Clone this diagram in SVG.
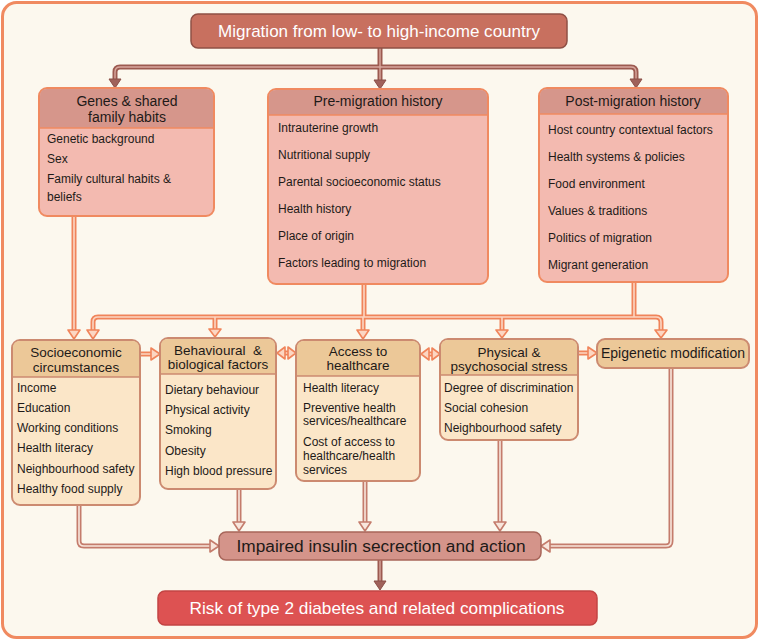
<svg xmlns="http://www.w3.org/2000/svg" width="759" height="640" viewBox="0 0 759 640">
<style>
text{font-family:"Liberation Sans",Arial,sans-serif;fill:#1e1a18}
.it{font-size:12px}
.hd{font-size:14px;text-anchor:middle}
.hm{font-size:13.5px;text-anchor:middle}
.wt{fill:#ffffff;font-size:17px;text-anchor:middle}
.pinkH{fill:#d6968b}
.pinkB{fill:#f3bab0;stroke:#f08a60;stroke-width:2}
.tanH{fill:#ecc898}
.tanB{fill:#fbe6c8;stroke:#cc8a70;stroke-width:2}
.sepP{stroke:#f08a60;stroke-width:1.5}
.sepT{stroke:#cc8a70;stroke-width:1.5}
.oo{fill:none;stroke:#f0845a;stroke-width:5}
.oi{fill:none;stroke:#fcd6c2;stroke-width:1.6}
.bo{fill:none;stroke:#c47c6c;stroke-width:5}
.bi{fill:none;stroke:#f8e6dc;stroke-width:1.6}
.to{fill:none;stroke:#9c5a50;stroke-width:5}
.ti{fill:none;stroke:#d9a89e;stroke-width:1.4}
.ao{fill:#fcd6c2;stroke:#f0845a;stroke-width:1.6;stroke-linejoin:round}
.ab{fill:#f8e6dc;stroke:#c47c6c;stroke-width:1.6;stroke-linejoin:round}
.at{fill:#a0625a;stroke:#8a4e46;stroke-width:1;stroke-linejoin:round}
</style>
<rect x="2.5" y="2.5" width="754" height="635" rx="14" fill="#fcf8ee" stroke="#f08a60" stroke-width="3"/>

<g id="connectors">
  <path class="to" d="M380,48 V86 M115,80 V72 Q115,67 120,67 H631 Q636,67 636,72 V80"/>
  <path class="ti" d="M380,48 V80 M115,80 V72 Q115,67 120,67 H631 Q636,67 636,72 V80"/>
  <polygon class="at" points="109,79 121,79 115,88"/>
  <polygon class="at" points="374,80 386,80 380,89"/>
  <polygon class="at" points="630,79 642,79 636,88"/>
  <path class="oo" d="M74,216 V331 M364,284 V317 M634,282 V317 M93,331 V322 Q93,317 98,317 H656 Q661,317 661,322 V330 M215,317 V329 M363,317 V331 M502,317 V330"/>
  <path class="oi" d="M74,216 V331 M364,284 V317 M634,282 V317 M93,331 V322 Q93,317 98,317 H656 Q661,317 661,322 V330 M215,317 V329 M363,317 V331 M502,317 V330"/>
  <polygon class="ao" points="68,330 80,330 74,339"/>
  <polygon class="ao" points="87,330 99,330 93,339"/>
  <polygon class="ao" points="209,329 221,329 215,337"/>
  <polygon class="ao" points="357,330 369,330 363,339"/>
  <polygon class="ao" points="496,330 508,330 502,338"/>
  <polygon class="ao" points="655,330 667,330 661,338"/>
  <path class="oo" d="M140,354 H152 M284,353 H289 M428,354 H433 M578,353 H589"/>
  <path class="oi" d="M140,354 H152 M284,353 H289 M428,354 H433 M578,353 H589"/>
  <polygon class="ao" points="151,348 151,360 160,354"/>
  <polygon class="ao" points="285,347 285,359 277,353"/>
  <polygon class="ao" points="288,347 288,359 296,353"/>
  <polygon class="ao" points="429,348 429,360 421,354"/>
  <polygon class="ao" points="432,348 432,360 440,354"/>
  <polygon class="ao" points="588,347 588,359 597,353"/>
  <path class="bo" d="M79,505 V541 Q79,546 84,546 H211 M239,489 V523 M365,481 V523 M500,440 V523 M671,368 V541 Q671,546 666,546 H549"/>
  <path class="bi" d="M79,505 V541 Q79,546 84,546 H211 M239,489 V523 M365,481 V523 M500,440 V523 M671,368 V541 Q671,546 666,546 H549"/>
  <polygon class="ab" points="210,540 210,552 219,546"/>
  <polygon class="ab" points="233,522 245,522 239,531"/>
  <polygon class="ab" points="359,522 371,522 365,531"/>
  <polygon class="ab" points="494,522 506,522 500,531"/>
  <polygon class="ab" points="550,540 550,552 541,546"/>
  <path class="to" d="M380,560 V582"/>
  <path class="ti" d="M380,560 V582"/>
  <polygon class="at" points="374,581 386,581 380,590"/>
</g>

<g id="migration">
  <rect x="191" y="14" width="376" height="34" rx="7" fill="#c8705f" stroke="#8f5045" stroke-width="1.5"/>
  <text class="wt" x="379" y="37" textLength="322" lengthAdjust="spacingAndGlyphs">Migration from low- to high-income country</text>
</g>

<g id="genes">
  <rect class="pinkB" x="39" y="88" width="175" height="128" rx="8"/>
  <path class="pinkH" d="M40,128 V96 Q40,89 47,89 H206 Q213,89 213,96 V128 Z"/>
  <line class="sepP" x1="40" y1="128" x2="213" y2="128"/>
  <text class="hd" x="127" y="106">Genes &amp; shared</text>
  <text class="hd" x="127" y="122">family habits</text>
  <text class="it" x="47" y="143">Genetic background</text>
  <text class="it" x="47" y="163">Sex</text>
  <text class="it" x="47" y="183">Family cultural habits &amp;</text>
  <text class="it" x="47" y="201">beliefs</text>
</g>

<g id="pre">
  <rect class="pinkB" x="268" y="89" width="220" height="195" rx="8"/>
  <path class="pinkH" d="M269,115 V97 Q269,90 276,90 H480 Q487,90 487,97 V115 Z"/>
  <line class="sepP" x1="269" y1="115" x2="487" y2="115"/>
  <text class="hd" x="378" y="106">Pre-migration history</text>
  <text class="it" x="278" y="132">Intrauterine growth</text>
  <text class="it" x="278" y="159">Nutritional supply</text>
  <text class="it" x="278" y="186">Parental socioeconomic status</text>
  <text class="it" x="278" y="213">Health history</text>
  <text class="it" x="278" y="240">Place of origin</text>
  <text class="it" x="278" y="267">Factors leading to migration</text>
</g>

<g id="post">
  <rect class="pinkB" x="539" y="88" width="189" height="194" rx="8"/>
  <path class="pinkH" d="M540,114 V96 Q540,89 547,89 H720 Q727,89 727,96 V114 Z"/>
  <line class="sepP" x1="540" y1="114" x2="727" y2="114"/>
  <text class="hd" x="633" y="106">Post-migration history</text>
  <text class="it" x="548" y="134">Host country contextual factors</text>
  <text class="it" x="548" y="161">Health systems &amp; policies</text>
  <text class="it" x="548" y="188">Food environment</text>
  <text class="it" x="548" y="215">Values &amp; traditions</text>
  <text class="it" x="548" y="242">Politics of migration</text>
  <text class="it" x="548" y="269">Migrant generation</text>
</g>

<g id="socio">
  <rect class="tanB" x="12" y="340" width="128" height="165" rx="8"/>
  <path class="tanH" d="M13,377 V348 Q13,341 20,341 H132 Q139,341 139,348 V377 Z"/>
  <line class="sepT" x1="13" y1="377" x2="139" y2="377"/>
  <text class="hm" x="76" y="357">Socioeconomic</text>
  <text class="hm" x="76" y="372">circumstances</text>
  <text class="it" x="17" y="392">Income</text>
  <text class="it" x="17" y="412">Education</text>
  <text class="it" x="17" y="432">Working conditions</text>
  <text class="it" x="17" y="452">Health literacy</text>
  <text class="it" x="17" y="473">Neighbourhood safety</text>
  <text class="it" x="17" y="493">Healthy food supply</text>
</g>

<g id="behav">
  <rect class="tanB" x="160" y="338" width="116" height="151" rx="8"/>
  <path class="tanH" d="M161,374 V346 Q161,339 168,339 H268 Q275,339 275,346 V374 Z"/>
  <line class="sepT" x1="161" y1="374" x2="275" y2="374"/>
  <text class="hm" x="218" y="355" xml:space="preserve">Behavioural  &amp;</text>
  <text class="hm" x="218" y="369">biological factors</text>
  <text class="it" x="165" y="394">Dietary behaviour</text>
  <text class="it" x="165" y="414">Physical activity</text>
  <text class="it" x="165" y="434">Smoking</text>
  <text class="it" x="165" y="455">Obesity</text>
  <text class="it" x="165" y="475">High blood pressure</text>
</g>

<g id="access">
  <rect class="tanB" x="296" y="340" width="124" height="141" rx="8"/>
  <path class="tanH" d="M297,376 V348 Q297,341 304,341 H412 Q419,341 419,348 V376 Z"/>
  <line class="sepT" x1="297" y1="376" x2="419" y2="376"/>
  <text class="hm" x="358" y="356">Access to</text>
  <text class="hm" x="358" y="370">healthcare</text>
  <text class="it" x="303" y="392">Health literacy</text>
  <text class="it" x="303" y="412">Preventive health</text>
  <text class="it" x="303" y="425">services/healthcare</text>
  <text class="it" x="303" y="446">Cost of access to</text>
  <text class="it" x="303" y="460">healthcare/health</text>
  <text class="it" x="303" y="474">services</text>
</g>

<g id="physical">
  <rect class="tanB" x="440" y="339" width="138" height="101" rx="8"/>
  <path class="tanH" d="M441,375 V347 Q441,340 448,340 H570 Q577,340 577,347 V375 Z"/>
  <line class="sepT" x1="441" y1="375" x2="577" y2="375"/>
  <text class="hm" x="509" y="357">Physical &amp;</text>
  <text class="hm" x="509" y="371">psychosocial stress</text>
  <text class="it" x="444" y="392">Degree of discrimination</text>
  <text class="it" x="444" y="412">Social cohesion</text>
  <text class="it" x="444" y="432">Neighbourhood safety</text>
</g>

<g id="epigenetic">
  <rect x="597" y="339" width="152" height="29" rx="8" fill="#ecc898" stroke="#cc8a70" stroke-width="2"/>
  <text class="hd" x="673" y="358">Epigenetic modification</text>
</g>

<g id="impaired">
  <rect x="219" y="532" width="322" height="28" rx="7" fill="#d4948a" stroke="#a8665a" stroke-width="1.5"/>
  <text x="381" y="552" font-size="16" text-anchor="middle" textLength="289" lengthAdjust="spacingAndGlyphs">Impaired insulin secrection and action</text>
</g>

<g id="risk">
  <rect x="158" y="591" width="439" height="34" rx="7" fill="#dd5252" stroke="#c24444" stroke-width="1.5"/>
  <text class="wt" x="377" y="614" textLength="375" lengthAdjust="spacingAndGlyphs">Risk of type 2 diabetes and related complications</text>
</g>
</svg>
